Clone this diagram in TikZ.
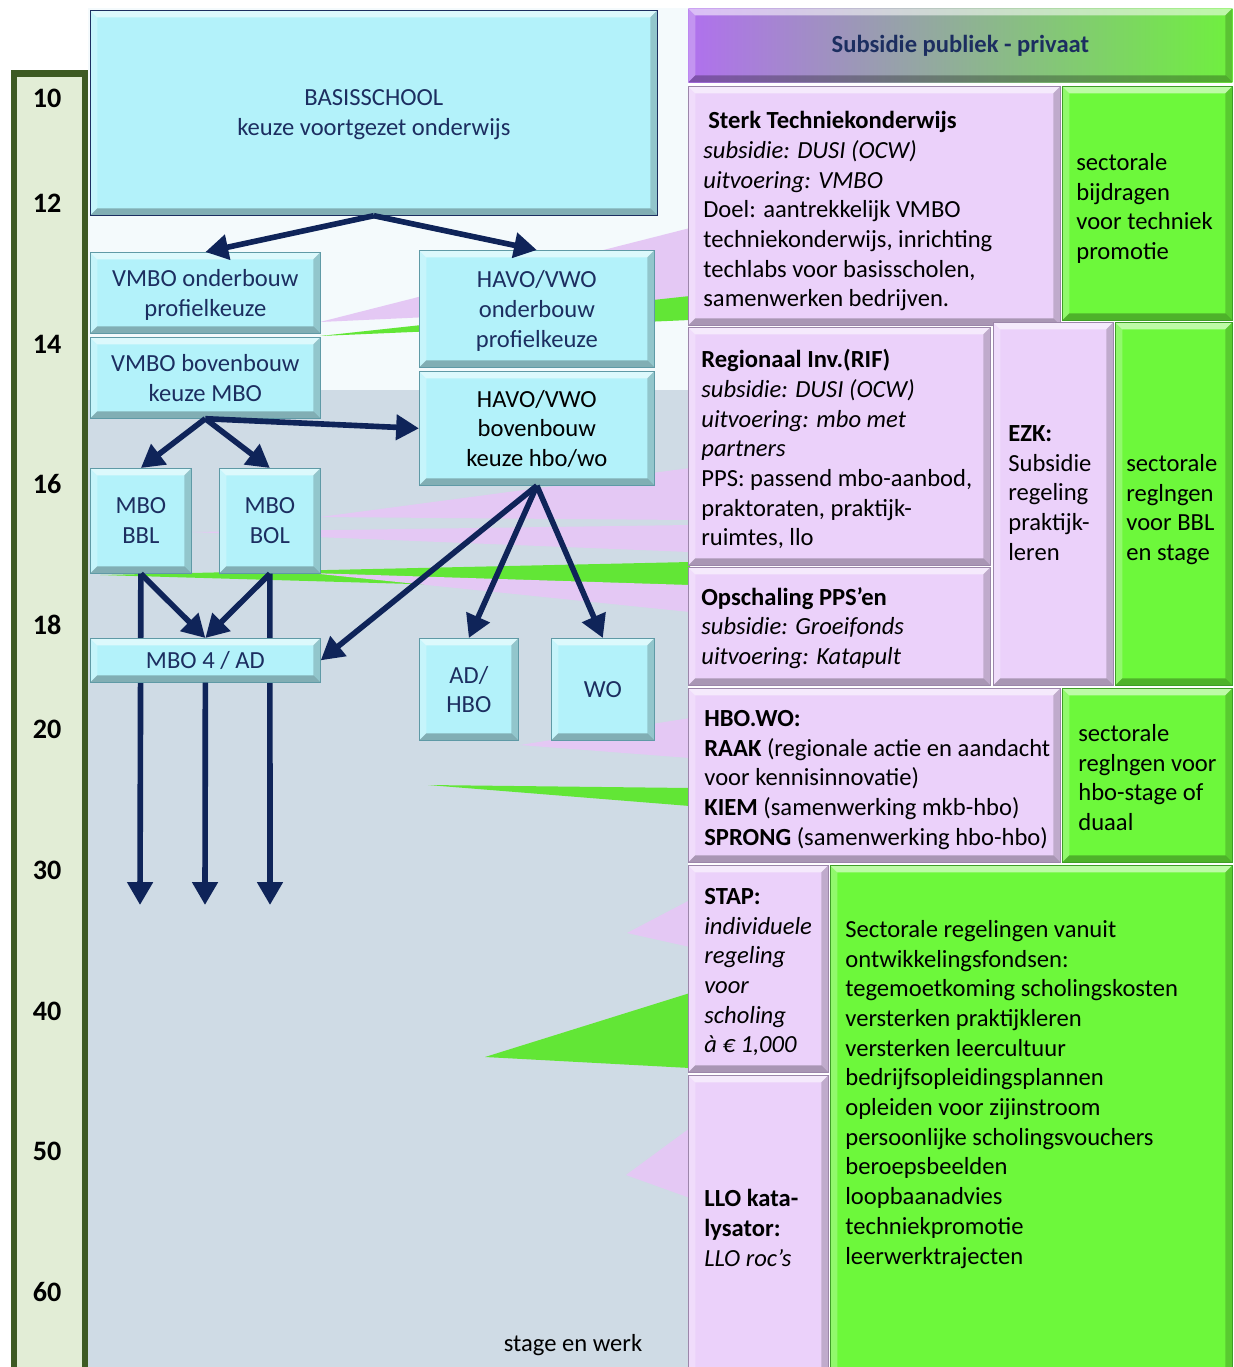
\documentclass[tikz,border=0pt]{standalone}
\usepackage{fontspec}
\setmainfont{Carlito}
\usetikzlibrary{arrows.meta}
\definecolor{navy}{HTML}{0F2459}
\definecolor{navytxt}{HTML}{1C2E60}
\definecolor{cyanbox}{HTML}{B3F2FA}
\definecolor{cyanedge}{HTML}{5F9AA6}
\definecolor{pinkbox}{HTML}{EBD1FA}
\definecolor{pinkedge}{HTML}{9C86AA}
\definecolor{pinkwedge}{HTML}{E4C8F4}
\definecolor{greenbox}{HTML}{6DF83B}
\definecolor{greenedge}{HTML}{3E9E26}
\definecolor{greenwedge}{HTML}{62E636}
\definecolor{greybg}{HTML}{CFDBE5}
\definecolor{topbg}{HTML}{F4FAFC}
\definecolor{agefill}{HTML}{E2EDD6}
\definecolor{ageedge}{HTML}{3D5A23}
\definecolor{hdrL}{HTML}{B070EE}
\definecolor{hdrM}{HTML}{A6D8DC}
\definecolor{hdrR}{HTML}{6FF03E}

% bevelled box look
\tikzset{bevel/.style={path picture={
  \path (path picture bounding box.north west) coordinate (bvA)
        (path picture bounding box.north east) coordinate (bvB)
        (path picture bounding box.south east) coordinate (bvC)
        (path picture bounding box.south west) coordinate (bvD);
  \fill[white, opacity=.55] (bvA) -- (bvB) -- ([shift={(-4pt,-4pt)}]bvB) -- ([shift={(4pt,-4pt)}]bvA) -- cycle;
  \fill[white, opacity=.25] (bvA) -- ([shift={(4pt,-4pt)}]bvA) -- ([shift={(4pt,4pt)}]bvD) -- (bvD) -- cycle;
  \fill[black, opacity=.28] (bvD) -- ([shift={(4pt,4pt)}]bvD) -- ([shift={(-4pt,4pt)}]bvC) -- (bvC) -- cycle;
  \fill[black, opacity=.18] (bvB) -- ([shift={(-4pt,-4pt)}]bvB) -- ([shift={(-4pt,4pt)}]bvC) -- (bvC) -- cycle;
}}}

\begin{document}
\begin{tikzpicture}[x=0.02cm, y=-0.02cm,
  every node/.style={font=\fontsize{14}{16.9}\selectfont, inner sep=0pt},
  sz/.style 2 args={minimum width=#1*0.02cm, minimum height=#2*0.02cm},
  cb/.style={anchor=north west, draw=cyanedge, fill=cyanbox, bevel, align=center, text=navytxt,
    text depth=-5pt},
  pb/.style={anchor=north west, draw=pinkedge, fill=pinkbox, bevel},
  gb/.style={anchor=north west, draw=greenedge, fill=greenbox, bevel},
  txt/.style={anchor=north west, align=left},
  age/.style={font=\fontsize{16}{19}\selectfont\bfseries},
  arr/.style={draw=navy, line width=3.2pt, -{Triangle[width=14pt,length=13pt]}}]
  \useasboundingbox (0,0) rectangle (1234,1367);

  % backgrounds and age scale
  \fill[topbg] (88,8) rectangle (688,390);
  \fill[greybg] (88,390) rectangle (688,1367);
  \draw[ageedge, fill=agefill, line width=0.14cm] (14,73) rectangle (85,1390);
  \foreach \a/\y in {10/98,12/203,14/344,16/484,18/625,20/729,30/870,40/1011,50/1151,60/1292}
    \node[age] (age\a) at (47,\y) {\a};

  % callout tails
  \fill[pinkwedge] (690,228) -- (320,322) -- (690,305) -- cycle;
  \fill[greenwedge] (690,296) -- (320,336) -- (690,320) -- cycle;
  \fill[pinkwedge] (690,468) -- (320,517) -- (690,520) -- cycle;
  \fill[pinkwedge] (690,525) -- (191,532) -- (690,552) -- cycle;
  \fill[greenwedge] (690,562) -- (100,575) -- (690,592) -- cycle;
  \fill[pinkwedge] (690,585) -- (310,573) -- (690,612) -- cycle;
  \fill[pinkwedge] (690,718) -- (520,745) -- (690,758) -- cycle;
  \fill[greenwedge] (690,788) -- (428,785) -- (690,806) -- cycle;
  \fill[pinkwedge] (690,900) -- (627,933) -- (690,947) -- cycle;
  \fill[greenwedge] (690,993) -- (485,1057) -- (690,1068) -- cycle;
  \fill[pinkwedge] (690,1128) -- (626,1175) -- (690,1198) -- cycle;

  % school route
  \node[cb, sz={567}{205}, draw=navytxt] (basis) at (90,10) {BASISSCHOOL\\keuze voortgezet onderwijs};
  \node[cb, sz={230}{81}] (vmboOB) at (90,252) {VMBO onderbouw\\profielkeuze};
  \node[cb, sz={230}{81}] (vmboBB) at (90,337) {VMBO bovenbouw\\keuze MBO};
  \node[cb, sz={235}{117}] (havoOB) at (419,250) {HAVO/VWO\\onderbouw\\profielkeuze};
  \node[cb, sz={235}{114}, text=black] (havoBB) at (419,371) {HAVO/VWO\\bovenbouw\\keuze hbo/wo};
  \node[cb, sz={101}{105}] (bbl) at (90,468) {MBO\\BBL};
  \node[cb, sz={101}{105}] (bol) at (219,468) {MBO\\BOL};
  \coordinate (endBBL) at (140,905);
  \coordinate (endMBO4) at (205,905);
  \coordinate (endBOL) at (270,905);
  \draw[arr] (bbl.south) -- (endBBL);
  \draw[arr] (bol.south) -- (endBOL);
  \node[cb, sz={230}{44}, text depth=0pt] (mbo4) at (90,638) {MBO 4 / AD};
  \node[cb, sz={99}{102}] (adhbo) at (419,638) {AD/\\HBO};
  \node[cb, sz={103}{102}] (wo) at (551,638) {WO};

  \draw[arr] (basis.south) -- (vmboOB.north);
  \draw[arr] (basis.south) -- (havoOB.north);
  \draw[arr] (vmboBB.south) -- (bbl.north);
  \draw[arr] (vmboBB.south) -- (bol.north);
  \draw[arr] (vmboBB.south) -- (havoBB.west);
  \draw[arr] (bbl.south) -- (mbo4.north);
  \draw[arr] (bol.south) -- (mbo4.north);
  \draw[arr] (mbo4.south) -- (endMBO4);
  \draw[arr] (havoBB.south) -- (mbo4.east);
  \draw[arr] (havoBB.south) -- (adhbo.north);
  \draw[arr] (havoBB.south) -- (wo.north);
  \node (werk) at (573,1345) {stage en werk};

  % subsidies
  \node[anchor=north west, sz={544}{74}, left color=hdrL, middle color=hdrM, right color=hdrR, bevel,
    text=navytxt, font=\fontsize{14}{16.9}\selectfont\bfseries] (head) at (688,8) {Subsidie publiek - privaat};
  \node[pb, sz={372}{239}] (sterk) at (688,86) {};
  \node[gb, sz={170}{234}] (grSterk) at (1062,86) {};
  \node[pb, sz={302}{238}] (rif) at (688,327) {};
  \node[pb, sz={302}{118}] (opsch) at (688,567) {};
  \node[pb, sz={120}{363}] (ezk) at (993,322) {};
  \node[gb, sz={117}{363}] (grBBL) at (1115,322) {};
  \node[pb, sz={372}{174}] (hbo) at (688,688) {};
  \node[gb, sz={170}{174}] (grHBO) at (1062,688) {};
  \node[pb, sz={140}{207}] (stap) at (688,865) {};
  \node[pb, sz={140}{300}] (llo) at (688,1075) {};
  \node[gb, sz={402}{510}] (grSect) at (830,865) {};

  \node[txt] (sterkTxt) at (703,111) {\textbf{\hspace*{0.1cm}Sterk Techniekonderwijs}\\
    \textit{subsidie: DUSI (OCW)}\\ \textit{uitvoering: VMBO}\\ Doel: aantrekkelijk VMBO\\
    techniekonderwijs, inrichting\\ techlabs voor basisscholen,\\ samenwerken bedrijven.};
  \node[txt] (grSterkTxt) at (1076,153) {sectorale\\ bijdragen\\ voor techniek\\ promotie};
  \node[txt] (rifTxt) at (701,349) {\textbf{Regionaal Inv.(RIF)}\\ \textit{subsidie: DUSI (OCW)}\\
    \textit{uitvoering: mbo met}\\ \textit{partners}\\ PPS: passend mbo-aanbod,\\
    praktoraten, praktijk-\\ ruimtes, llo};
  \node[txt] (opschTxt) at (701,587) {\textbf{Opschaling PPS'en}\\ \textit{subsidie: Groeifonds}\\
    \textit{uitvoering: Katapult}};
  \node[txt] (ezkTxt) at (1008,425) {\textbf{EZK:}\\ Subsidie\\ regeling\\ praktijk-\\ leren};
  \node[txt] (grBBLTxt) at (1126,454) {sectorale\\ reglngen\\ voor BBL\\ en stage};
  \node[txt] (hboTxt) at (704,710) {\textbf{HBO.WO:}\\ \textbf{RAAK} (regionale actie en aandacht\\
    voor kennisinnovatie)\\ \textbf{KIEM} (samenwerking mkb-hbo)\\ \textbf{SPRONG} (samenwerking hbo-hbo)};
  \node[txt] (grHBOTxt) at (1078,724) {sectorale\\ reglngen voor\\ hbo-stage of\\ duaal};
  \node[txt] (stapTxt) at (704,888) {\textbf{STAP:}\\ \textit{individuele}\\ \textit{regeling}\\
    \textit{voor}\\ \textit{scholing}\\ \textit{à € 1,000}};
  \node[txt] (lloTxt) at (704,1189) {\textbf{LLO kata-}\\ \textbf{lysator:}\\ \textit{LLO roc's}};
  \node[txt] (grSectTxt) at (845,920) {Sectorale regelingen vanuit\\ ontwikkelingsfondsen:\\
    tegemoetkoming scholingskosten\\ versterken praktijkleren\\ versterken leercultuur\\
    bedrijfsopleidingsplannen\\ opleiden voor zijinstroom\\ persoonlijke scholingsvouchers\\
    beroepsbeelden\\ loopbaanadvies\\ techniekpromotie\\ leerwerktrajecten};
\end{tikzpicture}
\end{document}
